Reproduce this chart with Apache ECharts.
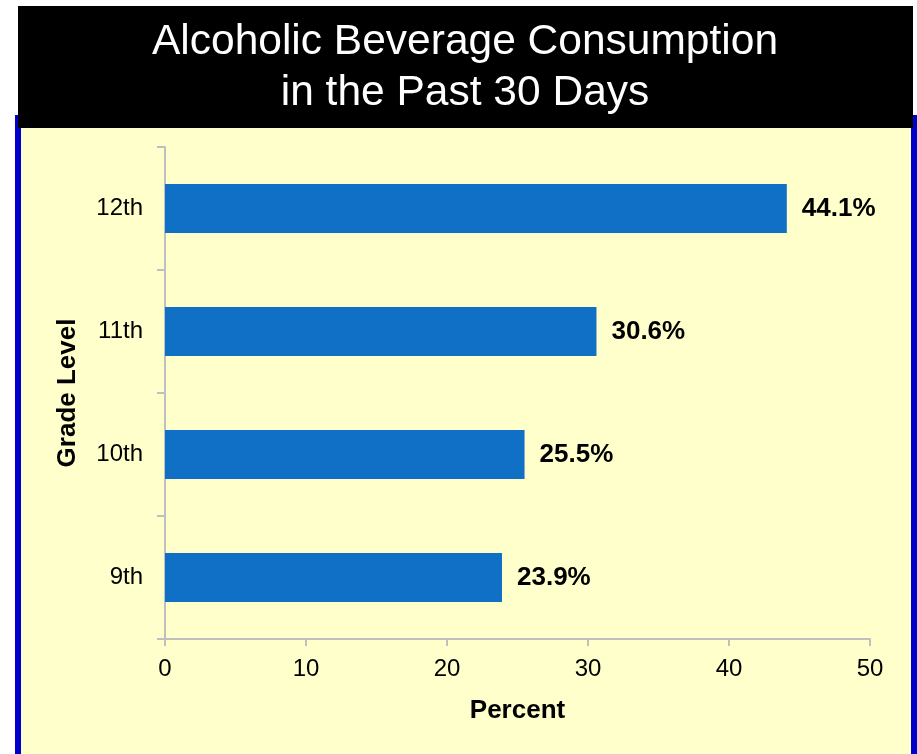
<!DOCTYPE html>
<html>
<head>
<meta charset="utf-8">
<script src="https://cdn.jsdelivr.net/npm/echarts@6/dist/echarts.min.js"></script>
<style>
html,body{margin:0;padding:0;background:#ffffff;}
#chart{width:917px;height:754px;}
</style>
</head>
<body>
<div id="chart"></div>
<script>
var titleText = 'Alcoholic Beverage Consumption\nin the Past 30 Days';
var categories = ['9th', '10th', '11th', '12th'];
var values = [23.9, 25.5, 30.6, 44.1];
var xTicks = [0, 10, 20, 30, 40, 50];
var yAxisName = 'Grade Level';
var xAxisName = 'Percent';

var chart = echarts.init(document.getElementById('chart'), null, {renderer: 'canvas'});
var FONT = 'Arial, "Liberation Sans", sans-serif';
chart.setOption({
  animation: false,
  backgroundColor: '#ffffff',
  graphic: [
    {type: 'rect', z: -10, shape: {x: 15, y: 115, width: 902, height: 639}, style: {fill: '#0000CC'}},
    {type: 'rect', z: -9, shape: {x: 21, y: 128, width: 890, height: 626}, style: {fill: '#FFFFCC'}},
    {type: 'rect', z: -8, shape: {x: 18, y: 6, width: 895, height: 122}, style: {fill: '#000000'}}
  ],
  title: {
    text: titleText,
    left: 465,
    textAlign: 'center',
    top: 17,
    padding: 0,
    textStyle: {color: '#ffffff', fontFamily: FONT, fontWeight: 'normal', fontSize: 42.5, lineHeight: 51, align: 'center'}
  },
  grid: {left: 165, right: 47, top: 147, bottom: 115, containLabel: false},
  xAxis: {
    type: 'value',
    min: xTicks[0],
    max: xTicks[xTicks.length - 1],
    interval: 10,
    name: xAxisName,
    nameLocation: 'middle',
    nameGap: 59,
    nameTextStyle: {color: '#000', fontFamily: FONT, fontWeight: 'bold', fontSize: 26},
    axisLine: {show: true, lineStyle: {color: '#BFBFBF', width: 2}},
    axisTick: {show: true, length: 7, lineStyle: {color: '#BFBFBF', width: 2}},
    axisLabel: {color: '#000', fontFamily: FONT, fontSize: 24, margin: 18},
    splitLine: {show: false}
  },
  yAxis: {
    type: 'category',
    data: categories,
    name: yAxisName,
    nameLocation: 'middle',
    nameGap: 84,
    nameTextStyle: {color: '#000', fontFamily: FONT, fontWeight: 'bold', fontSize: 26},
    axisLine: {show: true, lineStyle: {color: '#BFBFBF', width: 2}},
    axisTick: {show: true, length: 8, lineStyle: {color: '#BFBFBF', width: 2}},
    axisLabel: {color: '#000', fontFamily: FONT, fontSize: 24, margin: 22}
  },
  series: [{
    type: 'bar',
    data: values,
    barWidth: '40%',
    itemStyle: {color: '#1070C5'},
    label: {
      show: true,
      position: 'right',
      distance: 15,
      formatter: function (p) { return p.value.toFixed(1) + '%'; },
      color: '#000',
      fontFamily: FONT,
      fontWeight: 'bold',
      fontSize: 26
    }
  }]
});
</script>
</body>
</html>
